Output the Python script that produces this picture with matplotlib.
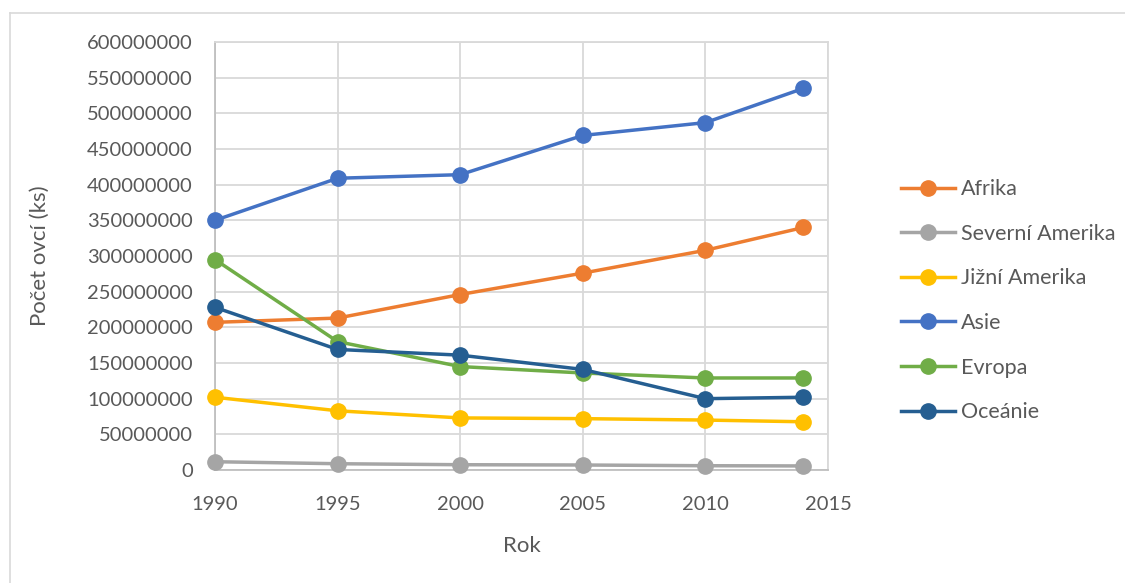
import matplotlib.pyplot as plt
from matplotlib.lines import Line2D

# Sheep counts by continent (pieces)
years = [1990, 1995, 2000, 2005, 2010, 2014]

afrika = [207e6, 213e6, 246e6, 276e6, 308e6, 340e6]
severni_amerika = [11.6e6, 8.8e6, 7.4e6, 7e6, 6e6, 5.7e6]
jizni_amerika = [102e6, 83e6, 73e6, 72e6, 70e6, 67.6e6]
asie = [350e6, 409e6, 414e6, 469e6, 487e6, 535e6]
evropa = [295e6, 180e6, 145e6, 136e6, 129e6, 129e6]
oceanie = [228e6, 169e6, 161e6, 141e6, 100e6, 102e6]

series_names = ["Afrika", "Severní Amerika", "Jižní Amerika", "Asie", "Evropa", "Oceánie"]
series_values = [afrika, severni_amerika, jizni_amerika, asie, evropa, oceanie]
series_colors = ["#ED7D31", "#A5A5A5", "#FFC000", "#4472C4", "#70AD47", "#255E91"]

x_ticks = [1990, 1995, 2000, 2005, 2010, 2015]
y_ticks = list(range(0, 600000001, 50000000))

TEXT = "#595959"
plt.rcParams["font.family"] = ["Lato", "DejaVu Sans"]

fig = plt.figure(figsize=(11.25, 5.83), dpi=100)
W, H = 1125, 583

# light outer chart border (only top and left are visible)
fig.add_artist(Line2D([10 / W, 1.0], [1 - 13 / H, 1 - 13 / H], color="#d9d9d9", lw=1.2))
fig.add_artist(Line2D([10 / W, 10 / W], [0.0, 1 - 13 / H], color="#d9d9d9", lw=1.2))

ax = fig.add_axes([215 / W, 1 - 470 / H, (828 - 215) / W, (470 - 42) / H])

handles = []
for name, vals, col in zip(series_names, series_values, series_colors):
    h, = ax.plot(years, vals, color=col, lw=2.5, marker="o", markersize=11,
                 label=name, zorder=3, clip_on=False)
    handles.append(h)

ax.set_xlim(1990, 2015)
ax.set_ylim(0, 600000000)
ax.set_xticks(x_ticks)
ax.set_yticks(y_ticks)
ax.set_yticklabels([str(v) for v in y_ticks])
ax.grid(True, color="#d9d9d9", lw=1.3, zorder=0)
ax.set_axisbelow(True)

for side in ["top", "right"]:
    ax.spines[side].set_color("#d9d9d9")
    ax.spines[side].set_linewidth(1.3)
for side in ["left", "bottom"]:
    ax.spines[side].set_color("#bfbfbf")
    ax.spines[side].set_linewidth(1.3)

ax.tick_params(length=0, labelsize=14.5, colors=TEXT)
ax.tick_params(axis="y", pad=16)
ax.tick_params(axis="x", pad=19)
ax.set_xlabel("Rok", fontsize=16, color=TEXT, labelpad=16)
ax.set_ylabel("Počet ovcí (ks)", fontsize=16, color=TEXT, labelpad=27)

leg = fig.legend(handles=handles, loc="upper left", bbox_to_anchor=(882 / W, 1 - 160 / H),
                 frameon=False, fontsize=15.5, labelspacing=1.14, handlelength=2.5,
                 handletextpad=0.25, labelcolor=TEXT)

fig.savefig("out.png", dpi=100, facecolor="white")
